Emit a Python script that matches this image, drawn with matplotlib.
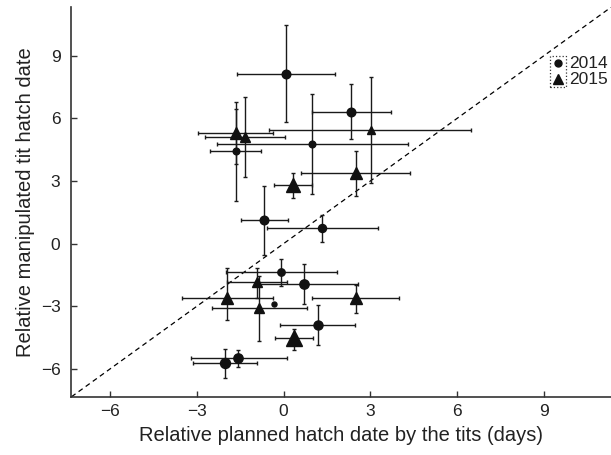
import matplotlib.pyplot as plt
from matplotlib.patches import Rectangle

plt.rcParams['font.family'] = ['Liberation Sans', 'DejaVu Sans']

# 2014 (circles): centre, error bar ends and marker size
x14 = [0.08, 2.33, -1.66, 1.00, -0.67, 1.34, -0.08, 0.72, -0.33, 1.18, -1.57, -2.03]
y14 = [8.14, 6.33, 4.45, 4.77, 1.11, 0.74, -1.38, -1.94, -2.88, -3.89, -5.49, -5.73]
x14_lo = [-1.62, 0.99, -2.54, -2.29, -1.47, -0.56, -2.00, -0.93, -0.33, -0.11, -3.21, -3.14]
x14_hi = [1.79, 3.70, -0.78, 4.31, 0.16, 3.25, 1.86, 2.56, -0.33, 2.47, 0.11, -0.91]
y14_lo = [5.84, 5.02, 2.02, 2.37, -0.54, 0.10, -2.02, -2.90, -2.88, -4.85, -5.89, -6.44]
y14_hi = [10.47, 7.67, 6.44, 7.16, 2.77, 1.35, -0.74, -0.98, -2.88, -2.93, -5.09, -5.04]
size14 = [6.2, 6.2, 4.8, 4.8, 6.2, 5.8, 5.3, 6.7, 3.6, 6.5, 6.7, 7.2]

# 2015 (triangles)
x15 = [-1.66, -1.33, 3.01, 2.49, 0.31, -0.93, -1.97, 2.50, -0.84, 0.36]
y15 = [5.31, 5.13, 5.45, 3.38, 2.82, -1.82, -2.61, -2.61, -3.09, -4.53]
x15_lo = [-2.95, -2.72, -0.49, 0.61, -0.34, -1.95, -3.52, 1.00, -2.49, -0.31]
x15_hi = [-0.36, 0.05, 6.50, 4.39, 0.97, 0.11, -0.38, 3.99, 0.82, 1.03]
y15_lo = [3.81, 3.19, 2.90, 2.26, 2.21, -2.61, -3.68, -3.33, -4.69, -5.12]
y15_hi = [6.81, 7.02, 8.00, 4.45, 3.38, -1.17, -1.18, -1.97, -1.54, -4.10]
size15 = [8.2, 7.2, 6.2, 8.6, 10.6, 7.7, 8.6, 8.6, 6.7, 11.0]

ticks = [-6, -3, 0, 3, 6, 9]

fig = plt.figure(figsize=(6.11, 4.55), dpi=100)
ax = fig.add_axes([0.117, 0.128, 0.883, 0.856])

lims = (-7.34, 11.33)
# 1:1 line
ax.plot(lims, lims, color='black', lw=0.9, ls=(0, (4, 3)), zorder=1)

def draw(xs, ys, xlo, xhi, ylo, yhi, sizes, mk):
    for i in range(len(xs)):
        xe = [[xs[i] - xlo[i]], [xhi[i] - xs[i]]]
        ye = [[ys[i] - ylo[i]], [yhi[i] - ys[i]]]
        if xhi[i] > xlo[i]:
            ax.errorbar([xs[i]], [ys[i]], xerr=xe, yerr=ye, fmt='none',
                        ecolor='#1a1a1a', elinewidth=1.0, capsize=1.5,
                        capthick=1.0, zorder=2)
        ax.plot(xs[i], ys[i], marker=mk, ms=sizes[i], color='#111111',
                ls='none', zorder=3)

draw(x14, y14, x14_lo, x14_hi, y14_lo, y14_hi, size14, 'o')
draw(x15, y15, x15_lo, x15_hi, y15_lo, y15_hi, size15, '^')

ax.set_xlim(lims)
ax.set_ylim(lims)
ax.set_xticks(ticks)
ax.set_yticks(ticks)
ax.set_xticklabels([str(t).replace('-', '\u2212') for t in ticks])
ax.set_yticklabels([str(t).replace('-', '\u2212') for t in ticks])
for s in ['top', 'right']:
    ax.spines[s].set_visible(False)
for s in ['left', 'bottom']:
    ax.spines[s].set_linewidth(1.2)
    ax.spines[s].set_color('#333333')
ax.tick_params(direction='in', length=4, width=1, colors='#333333',
               labelcolor='#222222', labelsize=12.5)
ax.tick_params(axis='x', pad=5)
ax.tick_params(axis='y', pad=8)

ax.set_xlabel('Relative planned hatch date by the tits (days)', fontsize=14.5,
              color='#222222', labelpad=5)
ax.set_ylabel('Relative manipulated tit hatch date', fontsize=14.5,
              color='#222222', labelpad=4)

# legend drawn by hand: dotted box round the symbols, text beside it
ax.add_patch(Rectangle((0.887, 0.796), 0.030, 0.079, transform=ax.transAxes,
                       fill=False, ls=':', lw=0.9, ec='#333333', clip_on=False))
ax.plot([0.902], [0.856], 'o', ms=5, color='#111111', transform=ax.transAxes)
ax.plot([0.902], [0.815], '^', ms=7, color='#111111', transform=ax.transAxes)
ax.text(0.922, 0.856, '2014', transform=ax.transAxes, fontsize=12.5,
        va='center', color='#222222')
ax.text(0.922, 0.815, '2015', transform=ax.transAxes, fontsize=12.5,
        va='center', color='#222222')

fig.savefig('out.png', dpi=100)
